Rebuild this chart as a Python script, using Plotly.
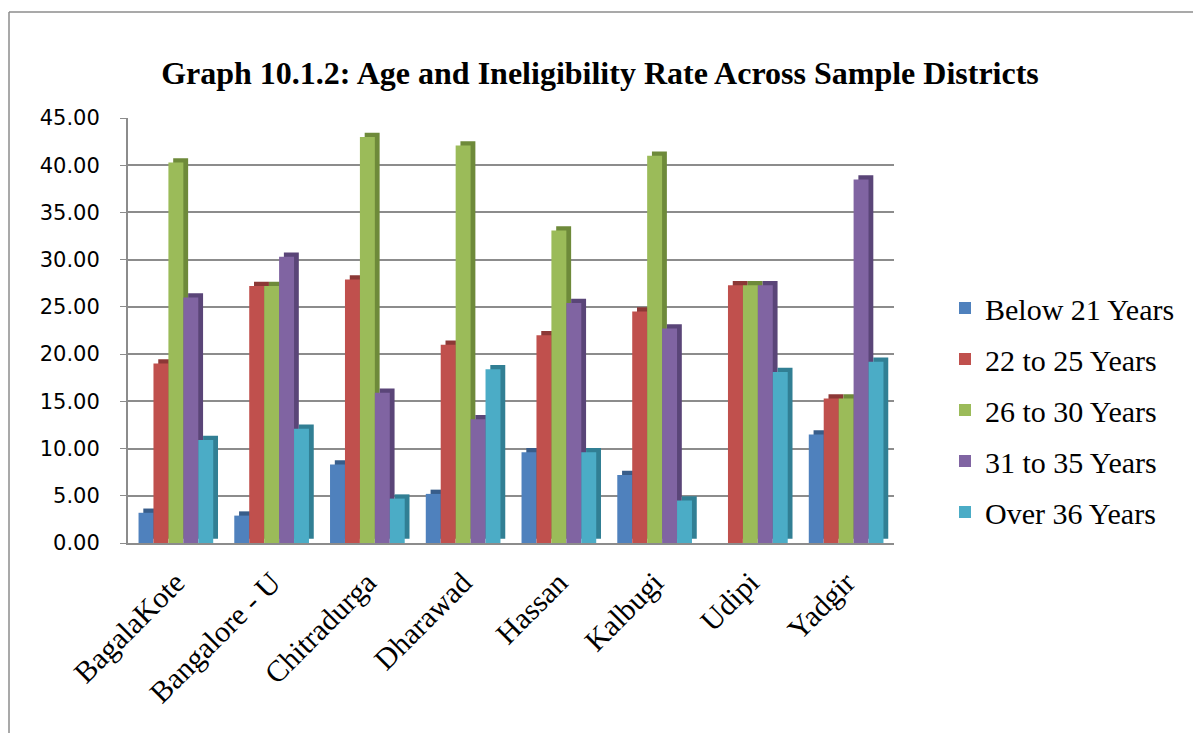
import plotly.graph_objects as go

districts = ["BagalaKote", "Bangalore - U", "Chitradurga", "Dharawad",
             "Hassan", "Kalbugi", "Udipi", "Yadgir"]
series_names = ["Below 21 Years", "22 to 25 Years", "26 to 30 Years",
                "31 to 35 Years", "Over 36 Years"]
below_21 = [3.2, 2.9, 8.3, 5.2, 9.6, 7.2, 0.0, 11.5]
age_22_25 = [19.0, 27.2, 27.9, 21.0, 22.0, 24.5, 27.3, 15.3]
age_26_30 = [40.3, 27.2, 43.0, 42.1, 33.1, 41.0, 27.3, 15.3]
age_31_35 = [26.0, 30.3, 15.9, 13.1, 25.4, 22.7, 27.3, 38.5]
over_36 = [10.9, 12.1, 4.7, 18.4, 9.6, 4.5, 18.1, 19.2]
tick_vals = [0, 5, 10, 15, 20, 25, 30, 35, 40, 45]
tick_text = ["0.00", "5.00", "10.00", "15.00", "20.00", "25.00",
             "30.00", "35.00", "40.00", "45.00"]

values = [below_21, age_22_25, age_26_30, age_31_35, over_36]
front_colors = ["#4F81BD", "#C0504D", "#9BBB59", "#8064A2", "#4BACC6"]
side_colors = ["#385D8A", "#8C3836", "#6E8A3A", "#5A4578", "#317F94"]

bar_w = 0.156
depth_x = 0.05
depth_y = 0.45

fig = go.Figure()
for i, (name, vals) in enumerate(zip(series_names, values)):
    off = -0.39 + i * bar_w
    # depth / side face
    fig.add_trace(go.Bar(
        x=districts, y=vals, base=depth_y, offset=off + depth_x, width=bar_w,
        marker=dict(color=side_colors[i], line=dict(width=0)),
        showlegend=False, hoverinfo="skip", legendgroup=f"g{i}"))
    # front face
    fig.add_trace(go.Bar(
        x=districts, y=vals, offset=off, width=bar_w, name=name,
        marker=dict(color=front_colors[i], line=dict(width=0)),
        legendgroup=f"g{i}"))

# page has an 8px body margin: work in screen pixels and shift
SH = 8
px_l, px_r, py_t, py_b = 128 - SH, 894 - SH, 118 - SH, 543 - SH
def px(xp):
    return (xp - SH - px_l) / (px_r - px_l)
def py(yp):
    return (py_b - (yp - SH)) / (py_b - py_t)

shapes = [
    dict(type="line", xref="paper", yref="paper", x0=px(9), x1=px(9),
         y0=py(745), y1=py(12), line=dict(color="#8C8C8C", width=1.5)),
    dict(type="line", xref="paper", yref="paper", x0=px(9), x1=px(1215),
         y0=py(12), y1=py(12), line=dict(color="#8C8C8C", width=1.5)),
]

fig.update_layout(
    width=1201, height=733,
    paper_bgcolor="white", plot_bgcolor="white",
    barmode="overlay",
    margin=dict(l=px_l, r=1201 - px_r, t=py_t, b=733 - py_b),
    title=dict(text="<b>Graph 10.1.2: Age and Ineligibility Rate Across Sample Districts</b>",
               x=(600 - SH) / 1201, xanchor="center", y=1 - (73 - SH) / 733,
               yanchor="middle",
               font=dict(family="Liberation Serif", size=32, color="black")),
    legend=dict(x=px(945), xanchor="left", y=py(410), yanchor="middle",
                font=dict(family="Liberation Serif", size=30, color="black"),
                tracegroupgap=9, bgcolor="rgba(0,0,0,0)"),
    shapes=shapes,
    showlegend=True,
)
fig.update_xaxes(
    range=[-0.5, 7.5], tickangle=-45, automargin=False,
    tickfont=dict(family="Liberation Serif", size=30, color="black"),
    showline=True, linecolor="#8C8C8C", linewidth=2, showgrid=False,
    ticks="", ticklen=0, ticklabelstandoff=8)
fig.update_yaxes(
    range=[0, 45], tickvals=tick_vals, ticktext=tick_text, automargin=False,
    tickfont=dict(family="DejaVu Sans", size=21, color="black"),
    showgrid=True, gridcolor="#8C8C8C", gridwidth=2,
    showline=True, linecolor="#8C8C8C", linewidth=2,
    ticks="outside", ticklen=6, tickcolor="#8C8C8C", ticklabelstandoff=16,
    zeroline=False)

fig.write_html("out.html")
